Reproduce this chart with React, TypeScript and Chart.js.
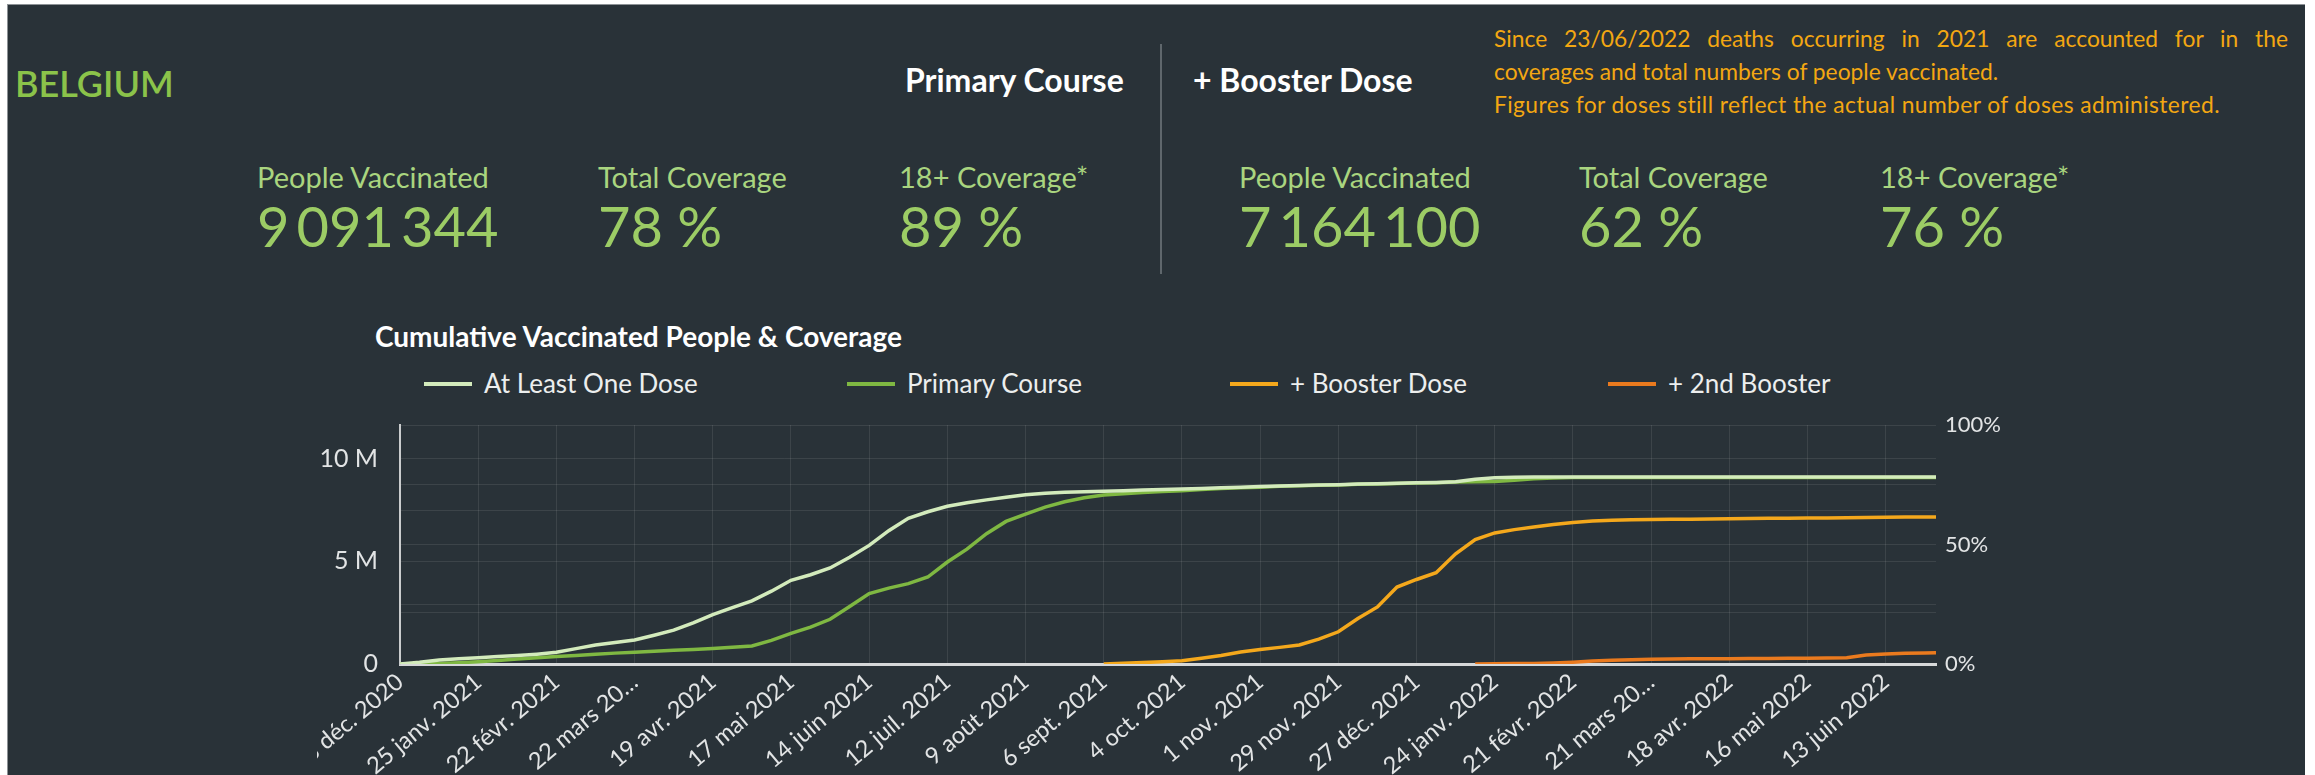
import React, { useEffect, useRef } from "react";
import Chart from "chart.js/auto";

// ---- data (values in millions of people) ----
const dayOffsets = [
  0, 7, 14, 21, 28, 35, 42, 49, 56, 63, 70, 77, 84, 91, 98, 105, 112, 119, 126, 133,
  140, 147, 154, 161, 168, 175, 182, 189, 196, 203, 210, 217, 224, 231, 238, 245, 252, 259, 266, 273,
  280, 287, 294, 301, 308, 315, 322, 329, 336, 343, 350, 357, 364, 371, 378, 385, 392, 399, 406, 413,
  420, 427, 434, 441, 448, 455, 462, 469, 476, 483, 490, 497, 504, 511, 518, 525, 532, 539, 546, 550,
];

const atLeastOneDose = [
  0, 0.08, 0.2, 0.26, 0.31, 0.36, 0.41, 0.48, 0.57, 0.75, 0.93, 1.05, 1.17, 1.4, 1.65, 2.0, 2.41, 2.75, 3.08, 3.55,
  4.08, 4.35, 4.68, 5.2, 5.78, 6.5, 7.1, 7.42, 7.69, 7.86, 8.0, 8.13, 8.25, 8.32, 8.37, 8.4, 8.42, 8.45, 8.48, 8.51,
  8.53, 8.56, 8.59, 8.62, 8.65, 8.68, 8.7, 8.72, 8.74, 8.77, 8.79, 8.81, 8.83, 8.85, 8.88, 9.0, 9.08, 9.1, 9.11, 9.12,
  9.12, 9.12, 9.12, 9.12, 9.12, 9.12, 9.12, 9.12, 9.12, 9.12, 9.12, 9.12, 9.12, 9.12, 9.12, 9.12, 9.12, 9.12, 9.12, 9.12,
];

const primaryCourse = [
  0, 0, 0.02, 0.06, 0.11, 0.17, 0.24, 0.3, 0.36, 0.42, 0.48, 0.53, 0.57, 0.62, 0.67, 0.71, 0.76, 0.82, 0.88, 1.15,
  1.49, 1.8, 2.18, 2.8, 3.43, 3.7, 3.92, 4.24, 4.97, 5.6, 6.35, 6.95, 7.31, 7.65, 7.91, 8.1, 8.24, 8.3, 8.36, 8.41,
  8.45, 8.5, 8.55, 8.59, 8.62, 8.66, 8.69, 8.71, 8.73, 8.76, 8.78, 8.8, 8.82, 8.84, 8.87, 8.88, 8.9, 8.96, 9.03, 9.07,
  9.09, 9.09, 9.09, 9.09, 9.09, 9.09, 9.09, 9.09, 9.09, 9.09, 9.09, 9.09, 9.09, 9.09, 9.09, 9.09, 9.09, 9.09, 9.09, 9.091,
];

const boosterDose = [
  null, null, null, null, null, null, null, null, null, null, null, null, null, null, null, null, null, null, null, null,
  null, null, null, null, null, null, null, null, null, null, null, null, null, null, null, null, 0, 0.04, 0.07, 0.11,
  0.16, 0.28, 0.41, 0.58, 0.71, 0.81, 0.93, 1.21, 1.57, 2.22, 2.78, 3.75, 4.12, 4.45, 5.37, 6.07, 6.39, 6.55, 6.68, 6.8,
  6.9, 6.97, 7.01, 7.03, 7.04, 7.05, 7.06, 7.07, 7.08, 7.09, 7.1, 7.11, 7.12, 7.12, 7.13, 7.14, 7.15, 7.16, 7.16, 7.164,
];

const secondBooster = [
  null, null, null, null, null, null, null, null, null, null, null, null, null, null, null, null, null, null, null, null,
  null, null, null, null, null, null, null, null, null, null, null, null, null, null, null, null, null, null, null, null,
  null, null, null, null, null, null, null, null, null, null, null, null, null, null, null, 0, 0.01, 0.02, 0.03, 0.05,
  0.09, 0.15, 0.18, 0.21, 0.23, 0.24, 0.25, 0.26, 0.26, 0.27, 0.27, 0.28, 0.28, 0.29, 0.31, 0.44, 0.49, 0.52, 0.54, 0.55,
];

const tickDays = [0, 28, 56, 84, 112, 140, 168, 196, 224, 252, 280, 308, 336, 364, 392, 420, 448, 476, 504, 532];
const tickLabels = [
  "28 déc. 2020", "25 janv. 2021", "22 févr. 2021", "22 mars 20…", "19 avr. 2021", "17 mai 2021",
  "14 juin 2021", "12 juil. 2021", "9 août 2021", "6 sept. 2021", "4 oct. 2021", "1 nov. 2021",
  "29 nov. 2021", "27 déc. 2021", "24 janv. 2022", "21 févr. 2022", "21 mars 20…", "18 avr. 2022",
  "16 mai 2022", "13 juin 2022",
];
const leftTicks = [0, 2.5, 5, 7.5, 10];
const leftTickLabels: Record<string, string> = { "0": "0", "5": "5 M", "10": "10 M" };
const rightTicks = [0, 25, 50, 75, 100];
const populationM = 11.65;
const xMaxDay = 550;

const seriesNames = ["At Least One Dose", "Primary Course", "+ Booster Dose", "+ 2nd Booster"];
const seriesColors = ["#d3ebbc", "#7fb842", "#f4a81c", "#ea7a1e"];

const primaryStats = [
  ["People Vaccinated", "9\u2009091\u2009344"],
  ["Total Coverage", "78 %"],
  ["18+ Coverage*", "89 %"],
];
const boosterStats = [
  ["People Vaccinated", "7\u2009164\u2009100"],
  ["Total Coverage", "62 %"],
  ["18+ Coverage*", "76 %"],
];

const BG = "#293238";
const GRID = "rgba(255,255,255,0.09)";
const TICK = "#e2e4e5";

const abs = (left: number, top: number, extra: React.CSSProperties = {}): React.CSSProperties => ({
  position: "absolute",
  left,
  top,
  whiteSpace: "nowrap",
  lineHeight: 1,
  ...extra,
});

export default function App() {
  const canvasRef = useRef<HTMLCanvasElement | null>(null);

  useEffect(() => {
    if (!canvasRef.current) return;
    const all = [atLeastOneDose, primaryCourse, boosterDose, secondBooster];
    const chart = new Chart(canvasRef.current, {
      type: "line",
      data: {
        datasets: all.map((vals, i) => ({
          label: seriesNames[i],
          data: dayOffsets.map((d, j) => ({ x: d, y: vals[j] as any })),
          borderColor: seriesColors[i],
          backgroundColor: seriesColors[i],
          borderWidth: 3.5,
          pointRadius: 0,
          tension: 0,
          spanGaps: false,
          yAxisID: "y",
        })),
      },
      options: {
        animation: false,
        responsive: true,
        maintainAspectRatio: false,
        layout: { autoPadding: false, padding: { top: 12, left: 0, right: 0, bottom: 0 } },
        plugins: { legend: { display: false }, tooltip: { enabled: false }, title: { display: false } },
        scales: {
          x: {
            type: "linear",
            min: 0,
            max: xMaxDay,
            afterBuildTicks: (s: any) => {
              s.ticks = tickDays.map((v) => ({ value: v }));
            },
            afterFit: (s: any) => {
              s.height = 111;
              s.paddingLeft = 0;
              s.paddingRight = 0;
            },
            ticks: {
              autoSkip: false,
              minRotation: 40,
              maxRotation: 40,
              color: TICK,
              padding: 4,
              font: { family: "Lato", size: 23.5 },
              callback: (_v: any, i: number) => tickLabels[i],
            },
            grid: { color: GRID, lineWidth: 1, drawTicks: false },
            border: { color: "#d6d8d9", width: 3 },
          },
          y: {
            position: "left",
            min: 0,
            max: populationM,
            afterBuildTicks: (s: any) => {
              s.ticks = leftTicks.map((v) => ({ value: v }));
            },
            afterFit: (s: any) => {
              s.width = 83;
              s.paddingTop = 0;
              s.paddingBottom = 0;
            },
            ticks: {
              color: TICK,
              padding: 22,
              font: { family: "Lato", size: 25 },
              callback: (v: any) => leftTickLabels[String(v)] ?? "",
            },
            grid: { color: GRID, lineWidth: 1, drawTicks: false },
            border: { color: "#c9cccd", width: 2 },
          },
          y1: {
            position: "right",
            min: 0,
            max: 100,
            afterBuildTicks: (s: any) => {
              s.ticks = rightTicks.map((v) => ({ value: v }));
            },
            afterFit: (s: any) => {
              s.width = 74;
              s.paddingTop = 0;
              s.paddingBottom = 0;
            },
            ticks: {
              color: TICK,
              padding: 9,
              font: { family: "Lato", size: 22 },
              callback: (v: any) => (v % 50 === 0 ? `${v}%` : ""),
            },
            grid: { color: GRID, lineWidth: 1, drawTicks: false },
            border: { display: false },
          },
        },
      },
    } as any);
    return () => chart.destroy();
  }, []);

  const statBlock = (stats: string[][], xs: number[]) =>
    stats.map(([label, value], i) => (
      <React.Fragment key={label + i}>
        <div style={abs(xs[i], 162, { fontSize: 29, color: "#a9d57f" })}>{label}</div>
        <div style={abs(xs[i], 198, { fontSize: 56, color: "#9ccc65" })}>{value}</div>
      </React.Fragment>
    ));

  const legendLineX = [424, 847, 1230, 1608];

  return (
    <div
      style={{
        position: "absolute",
        left: 0,
        top: 0,
        width: 2315,
        height: 775,
        overflow: "hidden",
        fontFamily: "Lato, 'Open Sans', sans-serif",
      }}
    >
      <div
        style={{
          position: "absolute",
          left: 7,
          top: 4,
          width: 2298,
          height: 771,
          background: BG,
          borderTop: "1px solid #8d9296",
          borderLeft: "1px solid #8d9296",
          boxSizing: "border-box",
        }}
      />
      <div style={abs(15, 65, { fontSize: 36, fontWeight: 600, color: "#8bc34a" })}>BELGIUM</div>
      <div style={abs(905, 64, { fontSize: 32, fontWeight: 700, color: "#ffffff" })}>Primary Course</div>
      <div style={{ position: "absolute", left: 1160, top: 44, width: 2, height: 230, background: "#5f676c" }} />
      <div style={abs(1193, 64, { fontSize: 32, fontWeight: 700, color: "#ffffff" })}>+ Booster Dose</div>

      <div
        style={{
          position: "absolute",
          left: 1494,
          top: 22,
          width: 794,
          fontSize: 22.8,
          lineHeight: "33px",
          color: "#f3a712",
        }}
      >
        <div style={{ textAlign: "justify", textAlignLast: "justify", whiteSpace: "nowrap" as any }}>
          Since 23/06/2022 deaths occurring in 2021 are accounted for in the
        </div>
        <div style={{ whiteSpace: "nowrap" }}>coverages and total numbers of people vaccinated.</div>
        <div style={{ whiteSpace: "nowrap", letterSpacing: 0.4 }}>
          Figures for doses still reflect the actual number of doses administered.
        </div>
      </div>

      {statBlock(primaryStats, [257, 598, 899])}
      {statBlock(boosterStats, [1239, 1579, 1880])}

      <div style={abs(375, 322, { fontSize: 28, fontWeight: 700, color: "#ffffff" })}>
        Cumulative Vaccinated People &amp; Coverage
      </div>

      {seriesNames.map((name, i) => (
        <React.Fragment key={name}>
          <div
            style={{
              position: "absolute",
              left: legendLineX[i],
              top: 382,
              width: 48,
              height: 4,
              background: seriesColors[i],
            }}
          />
          <div style={abs(legendLineX[i] + 60, 370, { fontSize: 26, color: "#eceeee" })}>{name}</div>
        </React.Fragment>
      ))}

      <div style={{ position: "absolute", left: 317, top: 413, width: 1693, height: 362 }}>
        <canvas ref={canvasRef} />
      </div>
    </div>
  );
}
